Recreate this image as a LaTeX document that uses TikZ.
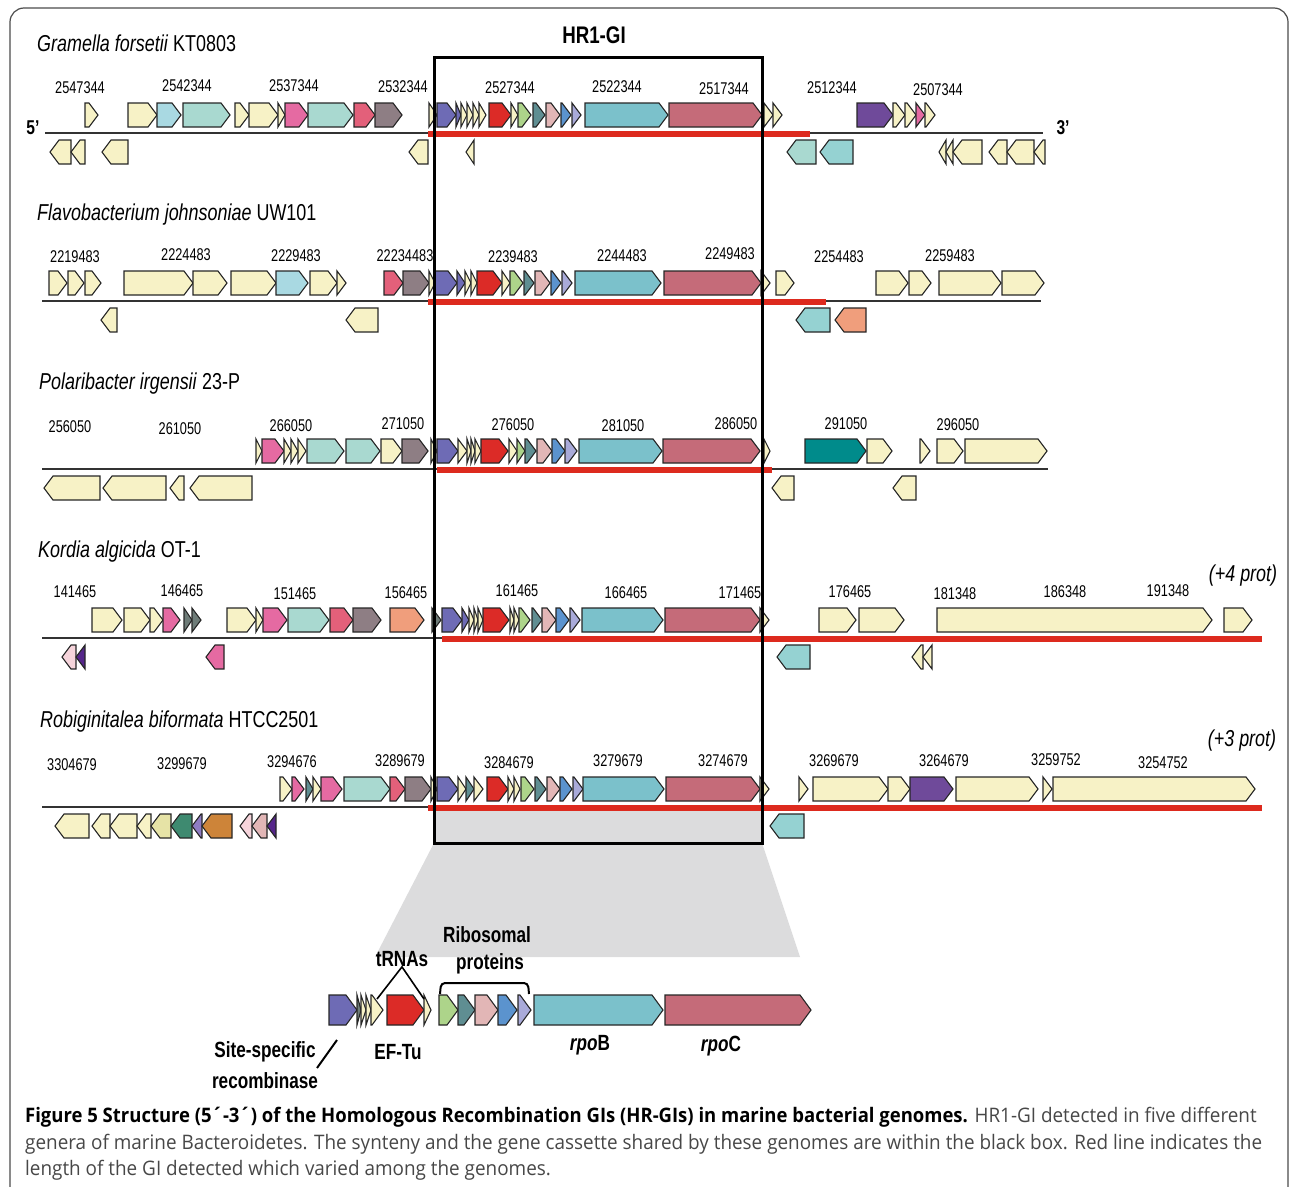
\documentclass[tikz,border=0pt]{standalone}
\usepackage{fontspec}
\setmainfont{Liberation Sans}
\newfontfamily\numfont{Liberation Sans}[FakeStretch=0.75]
\newfontfamily\narrowfont{Liberation Sans}[FakeStretch=0.78]
\newfontfamily\capfont{Open Sans}[FakeStretch=0.945]
\newfontfamily\capboldfont{Open Sans}[FakeStretch=0.925]
\usepackage{tikz}

% gene colours
\definecolor{gcr}{HTML}{F7F2C6}
\definecolor{glb}{HTML}{A9D9E2}
\definecolor{gmt}{HTML}{A9D9D0}
\definecolor{gpk}{HTML}{E56AA2}
\definecolor{grs}{HTML}{E3607A}
\definecolor{gmv}{HTML}{8E7E84}
\definecolor{gsl}{HTML}{6E6BB5}
\definecolor{grd}{HTML}{DC2B27}
\definecolor{ggn}{HTML}{ADD48A}
\definecolor{gtg}{HTML}{5F8E92}
\definecolor{gpl}{HTML}{E2B6B6}
\definecolor{gbl}{HTML}{5B93CE}
\definecolor{glv}{HTML}{A9AAD9}
\definecolor{grb}{HTML}{7BC1CB}
\definecolor{grc}{HTML}{C56B79}
\definecolor{gpu}{HTML}{6F4A9A}
\definecolor{gsa}{HTML}{F09E7C}
\definecolor{gdt}{HTML}{008B8B}
\definecolor{glt}{HTML}{95D2D2}
\definecolor{gdg}{HTML}{6E7C78}
\definecolor{ggr}{HTML}{3E8A70}
\definecolor{gkh}{HTML}{E6E3A6}
\definecolor{gor}{HTML}{CD8439}
\definecolor{glp}{HTML}{F6D4DB}
\definecolor{gdp}{HTML}{55258A}
\definecolor{gvl}{HTML}{8E7CC3}
\definecolor{islandred}{HTML}{DD2A1E}
\definecolor{zoomgrey}{HTML}{DCDCDD}

% half height and head length of a gene arrow
\newcommand\genehalf{12}
\newcommand\genehead{9}
% forward gene: x1, x2, y, colour
\newcommand\fwd[4]{%
  \pgfmathsetmacro\headlen{min(\genehead,#2-#1)}%
  \filldraw[gene, fill=#4] (#1,#3-\genehalf) -- (#2-\headlen,#3-\genehalf) -- (#2,#3)
    -- (#2-\headlen,#3+\genehalf) -- (#1,#3+\genehalf) -- cycle;}
% reverse gene: x1, x2, y, colour
\newcommand\rev[4]{%
  \pgfmathsetmacro\headlen{min(\genehead,#2-#1)}%
  \filldraw[gene, fill=#4] (#2,#3-\genehalf) -- (#1+\headlen,#3-\genehalf) -- (#1,#3)
    -- (#1+\headlen,#3+\genehalf) -- (#2,#3+\genehalf) -- cycle;}

\tikzset{
  gene/.style={draw=black!85, line width=1.1pt, line join=miter},
  chrom/.style={draw=black!80, line width=2.2pt},
  island/.style={draw=islandred, line width=6pt},
  num/.style={font=\numfont\fontsize{17}{20}\selectfont, inner sep=0pt},
  ttl/.style={font=\narrowfont\fontsize{23}{26}\selectfont, inner sep=0pt, anchor=west},
  lbl/.style={font=\narrowfont\bfseries\fontsize{22}{25}\selectfont, inner sep=0pt},
  capline/.style={font=\capfont\fontsize{20}{23}\selectfont, text=black!72, inner sep=0pt, anchor=base west}
}

\begin{document}
\begin{tikzpicture}[x=1pt, y=-1pt]
  \useasboundingbox (0,0) rectangle (1290,1186);

  % frame
  \draw[black!70, line width=1.2pt, rounded corners=14pt] (10,8) rectangle (1288,1230);

  % shaded zoom region
  \fill[zoomgrey] (434,810) rectangle (762,843);
  \draw[black!55, line width=2pt] (434,843) -- (762,843);
  \fill[zoomgrey] (434,843) -- (762,843) -- (800,957) -- (375,957) -- cycle;

  % track 1: Gramella
  \node[ttl] (ttl1) at (37,43) {\textit{Gramella forsetii} KT0803};
  \draw[chrom] (45,133) -- (1043,133);
  \draw[island] (428,134) -- (810,134);
  \node[lbl, font=\narrowfont\bfseries\fontsize{20}{22}\selectfont] (p5) at (33,128) {5’};
  \node[lbl, font=\narrowfont\bfseries\fontsize{20}{22}\selectfont] (p3) at (1063,128) {3’};
  \foreach \x/\y/\t in {80/88/2547344, 187/86/2542344, 294/86/2537344, 403/87/2532344,
      510/88/2527344, 617/87/2522344, 724/89/2517344, 832/88/2512344, 938/90/2507344}
    \node[num] (n1-\t) at (\x,\y) {\t};
  \foreach \a/\b/\c in {85/98/gcr, 128/157/gcr, 157/181/glb, 183/230/gmt, 235/249/gcr,
      249/278/gcr, 278/285/gcr, 285/308/gpk, 308/353/gmt, 354/375/grs, 375/402/gmv,
      429/437/gcr, 437/456/gsl, 456/461/gsl, 461/467/gcr, 467/473/gcr, 473/479/gcr,
      479/486/gcr, 489/511/grd, 511/518/gcr, 518/531/ggn, 533/545/gtg, 546/560/gpl,
      561/571/gbl, 572/581/glv, 585/668/grb, 669/762/grc, 764/773/gcr, 773/782/gcr,
      857/893/gpu, 893/905/gcr, 905/916/gcr, 916/925/gpk, 925/935/gcr}
    \fwd{\a}{\b}{115}{\c};
  \foreach \a/\b/\c in {50/71/gcr, 71/85/gcr, 102/128/gcr, 409/428/gcr, 466/474/gcr,
      787/816/gmt, 820/853/glt, 939/946/gcr, 946/953/gcr, 953/982/gcr, 989/1007/gcr,
      1007/1034/gcr, 1034/1045/gcr}
    \rev{\a}{\b}{152}{\c};

  % track 2: Flavobacterium
  \node[ttl] (ttl2) at (37,215) {\textit{Flavobacterium johnsoniae} UW101};
  \draw[chrom] (42,301) -- (1041,301);
  \draw[island] (428,302) -- (826,302);
  \foreach \x/\y/\t in {75/257/2219483, 186/255/2224483, 296/256/2229483, 405/256/22234483,
      513/257/2239483, 622/256/2244483, 730/254/2249483, 839/257/2254483, 950/256/2259483}
    \node[num] (n2-\t) at (\x,\y) {\t};
  \foreach \a/\b/\c in {49/67/gcr, 68/84/gcr, 85/101/gcr, 124/193/gcr, 193/227/gcr,
      231/276/gcr, 276/308/glb, 310/337/gcr, 337/346/gcr, 384/403/grs, 403/429/gmv,
      429/435/gcr, 435/457/gsl, 457/465/gsl, 465/471/gcr, 471/477/gcr, 477/502/grd,
      502/510/gcr, 510/523/ggn, 524/534/gtg, 535/550/gpl, 551/561/gbl, 562/572/glv,
      575/661/grb, 664/761/grc, 761/770/gcr, 776/794/gcr, 876/908/gcr, 909/931/gcr,
      939/1001/gcr, 1002/1044/gcr}
    \fwd{\a}{\b}{283}{\c};
  \foreach \a/\b/\c in {101/117/gcr, 346/378/gcr, 796/830/glt, 835/866/gsa}
    \rev{\a}{\b}{320}{\c};

  % track 3: Polaribacter
  \node[ttl] (ttl3) at (39,384) {\textit{Polaribacter irgensii} 23-P};
  \draw[chrom] (42,469) -- (1048,469);
  \draw[island] (437,470) -- (772,470);
  \foreach \x/\y/\t in {70/427/256050, 180/429/261050, 291/426/266050, 403/424/271050,
      513/425/276050, 623/426/281050, 736/424/286050, 846/424/291050, 958/425/296050}
    \node[num] (n3-\t) at (\x,\y) {\t};
  \foreach \a/\b/\c in {256/262/gcr, 262/284/gpk, 284/291/gcr, 291/298/gcr, 298/306/gcr,
      307/344/gmt, 346/380/gmt, 381/402/gcr, 402/428/gmv, 431/437/gcr, 437/458/gsl,
      458/467/gcr, 467/471/gcr, 471/475/gcr, 475/481/gcr, 481/508/grd, 509/517/gcr,
      517/525/ggn, 525/536/gtg, 537/552/gpl, 552/565/gbl, 565/577/glv, 579/662/grb,
      663/760/grc, 764/770/gcr, 805/866/gdt, 867/892/gcr, 920/930/gcr, 937/963/gcr,
      965/1047/gcr}
    \fwd{\a}{\b}{451}{\c};
  \foreach \a/\b/\c in {44/100/gcr, 103/166/gcr, 170/184/gcr, 190/252/gcr, 772/794/gcr,
      893/916/gcr}
    \rev{\a}{\b}{488}{\c};

  % track 4: Kordia
  \node[ttl] (ttl4) at (38,552) {\textit{Kordia algicida} OT-1};
  \node[ttl, anchor=center] (extra4) at (1243,576) {\textit{(+4 prot)}};
  \draw[chrom] (42,638) -- (1258,638);
  \draw[island] (442,639) -- (1262,639);
  \foreach \x/\y/\t in {75/592/141465, 182/591/146465, 295/594/151465, 406/593/156465,
      517/591/161465, 626/593/166465, 740/593/171465, 850/592/176465, 955/594/181348,
      1065/592/186348, 1168/591/191348}
    \node[num] (n4-\t) at (\x,\y) {\t};
  \foreach \a/\b/\c in {92/122/gcr, 124/150/gcr, 150/163/gcr, 163/180/gpk, 184/192/gdg,
      192/201/gdg, 227/256/gcr, 256/263/gcr, 263/287/gpk, 288/329/gmt, 330/353/grs,
      353/381/gmv, 390/424/gsa, 432/441/gdg, 442/462/gsl, 462/469/gsl, 469/474/gcr,
      474/478/gcr, 478/483/gcr, 483/509/grd, 510/514/gcr, 514/519/gcr, 519/530/ggn,
      532/542/gtg, 542/556/gpl, 556/569/gbl, 570/580/glv, 582/663/grb, 665/760/grc,
      760/769/gcr, 819/856/gcr, 859/904/gcr, 937/1212/gcr, 1224/1252/gcr}
    \fwd{\a}{\b}{620}{\c};
  \foreach \a/\b/\c in {62/76/glp, 76/85/gdp, 206/224/gpk, 777/810/glt, 912/923/gcr,
      923/932/gcr}
    \rev{\a}{\b}{657}{\c};

  % track 5: Robiginitalea
  \node[ttl] (ttl5) at (40,722) {\textit{Robiginitalea biformata} HTCC2501};
  \node[ttl, anchor=center] (extra5) at (1242,741) {\textit{(+3 prot)}};
  \draw[chrom] (42,807) -- (1262,807);
  \draw[island] (428,808) -- (1262,808);
  \foreach \x/\y/\t in {72/765/3304679, 182/764/3299679, 292/762/3294676, 400/761/3289679,
      509/763/3284679, 618/761/3279679, 723/761/3274679, 834/761/3269679, 944/761/3264679,
      1056/760/3259752, 1163/763/3254752}
    \node[num] (n5-\t) at (\x,\y) {\t};
  \foreach \a/\b/\c in {280/292/gcr, 292/304/gpk, 306/313/gtg, 313/321/gcr, 321/342/gpk,
      344/390/gmt, 390/405/grs, 405/431/gmv, 431/437/gcr, 437/458/gsl, 458/466/gcr,
      466/474/gtg, 474/483/gcr, 487/508/grd, 508/514/gcr, 514/520/gcr, 521/534/ggn,
      535/546/gtg, 547/560/gpl, 560/572/gbl, 573/583/glv, 583/664/grb, 666/760/grc,
      760/769/gcr, 799/808/gcr, 813/888/gcr, 888/910/gcr, 910/953/gpu, 956/1038/gcr,
      1043/1052/gcr, 1053/1255/gcr}
    \fwd{\a}{\b}{789}{\c};
  \foreach \a/\b/\c in {55/89/gcr, 92/110/gcr, 110/137/gcr, 137/151/gcr, 151/171/gkh,
      171/192/ggr, 192/202/gvl, 202/232/gor, 240/252/glp, 252/267/gpl, 267/276/gdp,
      770/804/glt}
    \rev{\a}{\b}{826}{\c};

  % HR1-GI box
  \node[lbl, font=\narrowfont\bfseries\fontsize{24}{26}\selectfont] (hr) at (594,35) {HR1-GI};
  \draw[black, line width=3pt] (434,57) rectangle (762,843);

  % gene cassette
  \begin{scope}
    \renewcommand\genehalf{15}
    \renewcommand\genehead{11}
    \foreach \a/\b/\c in {329/357/gsl, 357/361/gdg, 361/366/gcr, 366/371/gcr, 371/383/gcr,
        387/424/grd, 424/431/gcr, 439/458/ggn, 458/475/gtg, 475/498/gpl, 498/517/gbl,
        518/531/glv, 534/663/grb, 665/811/grc}
      \fwd{\a}{\b}{1010}{\c};
  \end{scope}
  \node[lbl] (ribo) at (487,935) {Ribosomal};
  \node[lbl] (prot) at (490,964) {proteins};
  \node[lbl] (trna) at (402,959) {tRNAs};
  \node[lbl] (eftu) at (398,1052) {EF-Tu};
  \node[lbl] (site) at (265,1052) {Site-specific};
  \node[lbl] (reco) at (265,1081) {recombinase};
  \node[lbl] (rpob) at (590,1045) {\textit{rpo}B};
  \node[lbl] (rpoc) at (721,1046) {\textit{rpo}C};
  \coordinate (t1) at (377,999);
  \coordinate (t2) at (424,999);
  \draw[line width=1.6pt] (t1) -- (trna.south) -- (t2);
  \draw[line width=2pt, rounded corners=4pt] (440,994) -- (441,983) -- (528,983) -- (529,994);
  \coordinate (s1) at (337,1040);
  \coordinate (s2) at (317,1068);
  \draw[line width=2pt] (s1) -- (s2);

  % caption
  \node[capline] (cap1) at (25,1122) {{\capboldfont\bfseries\color{black}Figure 5 Structure (5´-3´) of the Homologous Recombination GIs (HR-GIs) in marine bacterial genomes.} HR1-GI detected in five different};
  \node[capline] (cap2) at (25,1149) {genera of marine Bacteroidetes. The synteny and the gene cassette shared by these genomes are within the black box. Red line indicates the};
  \node[capline] (cap3) at (25,1175) {length of the GI detected which varied among the genomes.};
\end{tikzpicture}
\end{document}
